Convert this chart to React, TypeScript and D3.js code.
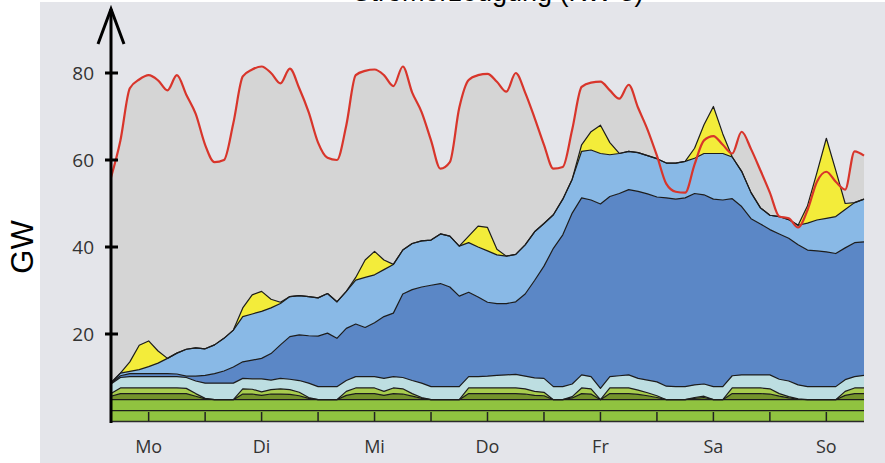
import { useEffect, useRef } from 'react';
import * as d3 from 'd3';

// hours since Monday 00:00, one sample every 2 h (Mon 04:00 .. Sun 20:00)
const hours = d3.range(4, 165, 2);

// consumption (GW)
const load = [
  56, 64.5, 76.5, 78.5, 79.5, 78.3, 76, 79.5, 75, 70.6,
  63.5, 59.5, 60, 68.5, 79.2, 80.8, 81.5, 80, 77.6, 81,
  76.5, 71, 64, 60.5, 60, 68, 79.5, 80.5, 80.8, 79.5,
  77, 81.5, 75.5, 71, 64.5, 58, 59.5, 72, 78.4, 79.5,
  79.8, 78, 75.7, 80, 75.5, 69.7, 63.5, 58, 58.4, 67,
  76.8, 77.8, 78, 76, 74.1, 77.3, 72, 67, 61, 54.5,
  52.7, 52.5, 59, 64.5, 65.5, 63.5, 61.5, 66.5, 62.5, 57.6,
  52.5, 47, 46.6, 44.5, 48.5, 55, 57.3, 55, 53.2, 62,
  61,
];

// flat base layers
const biomass = hours.map(() => 2.4);
const hydro = hours.map(() => 2.5);

const otherA = [
  0.8, 1.4, 1.4, 1.4, 1.4, 1.4, 1.4, 1.4, 1.4, 0.8,
  0.2, 0, 0, 0, 1.3, 1.3, 1.0, 1.3, 1.3, 1.2,
  0.9, 0.3, 0, 0, 0, 1.0, 1.4, 1.4, 1.4, 1.0,
  1.4, 1.3, 0.8, 0.3, 0, 0, 0, 0, 1.4, 1.4,
  1.4, 1.4, 1.4, 1.4, 1.3, 1.0, 0.9, 0, 0, 0.4,
  1.4, 1.3, 0, 1.4, 1.4, 1.4, 1.2, 0.9, 0.5, 0,
  0, 0, 0.3, 0.5, 0, 0, 1.4, 1.4, 1.4, 1.4,
  1.3, 0.8, 0.4, 0.1, 0, 0, 0, 0, 1.0, 1.4,
  1.4,
];

const otherB = [
  0.6, 1.3, 1.3, 1.3, 1.3, 1.3, 1.3, 1.3, 1.2, 0.6,
  0.1, 0, 0, 0, 1.2, 1.1, 0.8, 1.0, 1.2, 1.1,
  0.8, 0.2, 0, 0, 0, 0.9, 1.3, 1.3, 1.3, 0.9,
  1.3, 1.2, 0.6, 0.2, 0, 0, 0, 0, 1.3, 1.3,
  1.3, 1.3, 1.3, 1.3, 1.2, 0.9, 0.8, 0, 0, 0.3,
  1.3, 1.2, 0, 1.3, 1.3, 1.3, 1.0, 0.7, 0.4, 0,
  0, 0, 0.2, 0.3, 0, 0, 1.3, 1.3, 1.3, 1.3,
  1.2, 0.6, 0.3, 0.1, 0, 0, 0, 0, 0.9, 1.3,
  1.3,
];

const gas = [
  2.2, 2.4, 2.6, 2.6, 2.6, 2.6, 2.6, 2.6, 2.5, 2.9,
  3.5, 3.8, 3.8, 3.8, 2.4, 2.4, 3.0, 2.2, 2.4, 2.4,
  2.7, 3.3, 3.0, 3.0, 3.0, 2.5, 2.6, 2.6, 2.6, 3.0,
  2.6, 2.6, 3.0, 3.3, 3.0, 3.0, 3.0, 3.0, 2.6, 2.6,
  2.7, 2.9, 3.0, 3.1, 2.9, 3.1, 3.2, 3.0, 3.0, 2.9,
  3.0, 2.8, 2.6, 2.6, 2.8, 3.0, 2.7, 2.9, 3.2, 3.1,
  3.0, 3.0, 2.9, 2.8, 3.0, 3.0, 2.8, 3.0, 3.0, 3.0,
  3.2, 3.3, 3.6, 3.2, 3.0, 3.0, 3.0, 3.0, 2.7, 2.6,
  2.9,
];

const windOnshore = [
  0.2, 0.4, 0.7, 0.7, 0.7, 0.7, 0.7, 0.6, 0.3, 1.1,
  1.8, 2.2, 2.8, 3.7, 3.8, 4.3, 4.7, 6.1, 7.7, 9.8,
  10.5, 10.9, 11.6, 12.3, 11.1, 12, 12.1, 11.3, 12.4, 14.2,
  14.6, 19.2, 20.9, 22.1, 23.3, 23.7, 22.9, 20.8, 19.4, 18.3,
  17, 16.5, 16.4, 16.7, 18.9, 22.4, 25.8, 31.8, 34.9, 39.3,
  40.7, 40.6, 42.4, 41.4, 41.9, 42.6, 43, 42.8, 42.5, 43.3,
  43.1, 43.4, 44, 43.5, 43.1, 42.9, 40.7, 38.7, 35.9, 34.7,
  33.4, 33.4, 32.8, 32.2, 31.4, 31.2, 31, 30.6, 30.3, 30.8,
  30.7,
];

const windOffshore = [
  0.1, 0.6, 0.5, 0.9, 1.6, 2.4, 3.5, 4.8, 6.2, 6.5,
  6.1, 6.6, 7.5, 8.5, 10.4, 10.6, 10.8, 10.5, 9.5, 9.2,
  9, 9, 8.8, 9.1, 8.4, 8.5, 10.1, 11.5, 11, 10.8,
  11.2, 10.1, 10.6, 10.6, 10.4, 11.4, 11.7, 11.5, 11.4, 11.5,
  11.8, 11.2, 10.9, 10.9, 11.3, 11.2, 9.8, 7.7, 8.2, 7.8,
  10.7, 11.5, 11.6, 9.6, 9.2, 8.8, 8.9, 8.8, 8.8, 8,
  8.3, 8.4, 8.1, 9.5, 10.5, 10.7, 9.6, 8.1, 6, 3.7,
  3.3, 4, 4.3, 4.5, 6.2, 7.1, 7.7, 8.5, 8.8, 9.2,
  9.8,
];

const solar = [
  0, 0, 2.2, 5.6, 5.9, 2.8, 0, 0, 0, 0,
  0, 0, 0, 0, 2, 4.4, 4.6, 2, 0.3, 0,
  0, 0, 0, 0, 0, 0, 0.6, 4, 5.4, 2.2,
  0, 0, 0, 0, 0, 0, 0, 0, 1.5, 4.8,
  5.4, 1.3, 0, 0, 0, 0, 0, 0, 0, 0,
  1.5, 4.2, 6.5, 2.8, 0, 0, 0, 0, 0, 0,
  0, 0, 2.3, 6.6, 10.8, 4.5, 0, 0, 0, 0,
  0, 0, 0, 0, 4, 10.9, 18.4, 10.6, 1.4, 0,
  0,
];

const yTicks = [20, 40, 60, 80];
const dayLabels = ['Mo', 'Di', 'Mi', 'Do', 'Fr', 'Sa', 'So'];

const layers = [
  { key: 'biomass', values: biomass, color: '#90c340' },
  { key: 'hydro', values: hydro, color: '#90c340' },
  { key: 'otherA', values: otherA, color: '#74932b' },
  { key: 'otherB', values: otherB, color: '#a8cc4e' },
  { key: 'gas', values: gas, color: '#bddee1' },
  { key: 'windOnshore', values: windOnshore, color: '#5b87c6' },
  { key: 'windOffshore', values: windOffshore, color: '#89b9e6' },
  { key: 'solar', values: solar, color: '#f3ec3a' },
];

export default function App() {
  const svgRef = useRef<SVGSVGElement>(null);

  useEffect(() => {
    if (!svgRef.current) return;
    document.body.style.margin = '0';

    const svg = d3.select(svgRef.current);
    svg.selectAll('*').remove();

    const width = 885;
    const height = 463;

    const x = d3.scaleLinear().domain([4, 164]).range([111, 864]);
    const y = d3.scaleLinear().domain([0, 80]).range([421, 73]);

    // panel background
    svg
      .append('rect')
      .attr('x', 40)
      .attr('y', 2)
      .attr('width', width - 40)
      .attr('height', height - 2)
      .attr('fill', '#e4e5ea');

    // gray area under the load curve
    const loadArea = d3
      .area<number>()
      .x((_, i) => x(hours[i]))
      .y0(y(0))
      .y1((d) => y(d))
      .curve(d3.curveMonotoneX);

    svg.append('path').datum(load).attr('d', loadArea).attr('fill', '#d5d5d5');

    // stacked generation
    const rows = hours.map((h, i) => {
      const r: any = { h };
      layers.forEach((l) => (r[l.key] = l.values[i]));
      return r;
    });
    const stacked = d3.stack<any>().keys(layers.map((l) => l.key))(rows);

    const area = d3
      .area<any>()
      .x((d) => x(d.data.h))
      .y0((d) => y(d[0]))
      .y1((d) => y(d[1]));

    const topLine = d3
      .line<any>()
      .x((d) => x(d.data.h))
      .y((d) => y(d[1]));

    stacked.forEach((s, i) => {
      svg.append('path').datum(s).attr('d', area).attr('fill', layers[i].color);
    });
    stacked.forEach((s) => {
      svg
        .append('path')
        .datum(s)
        .attr('d', topLine)
        .attr('fill', 'none')
        .attr('stroke', '#1c1c1c')
        .attr('stroke-width', 1.2)
        .attr('stroke-linejoin', 'round');
    });

    // load line
    const loadLine = d3
      .line<number>()
      .x((_, i) => x(hours[i]))
      .y((d) => y(d))
      .curve(d3.curveMonotoneX);

    svg
      .append('path')
      .datum(load)
      .attr('d', loadLine)
      .attr('fill', 'none')
      .attr('stroke', '#d8352b')
      .attr('stroke-width', 2.2);

    // x axis
    svg
      .append('line')
      .attr('x1', 111)
      .attr('x2', 864)
      .attr('y1', 421.5)
      .attr('y2', 421.5)
      .attr('stroke', '#2a2a2a')
      .attr('stroke-width', 1.5);

    svg
      .selectAll('.xtick')
      .data(d3.range(12, 164, 12))
      .join('line')
      .attr('x1', (d) => x(d))
      .attr('x2', (d) => x(d))
      .attr('y1', 412)
      .attr('y2', 421)
      .attr('stroke', '#222')
      .attr('stroke-width', 1.5);

    svg
      .selectAll('.day')
      .data(dayLabels)
      .join('text')
      .attr('x', (_, i) => x(12 + i * 24))
      .attr('y', 453)
      .attr('text-anchor', 'middle')
      .attr('font-family', 'Open Sans, sans-serif')
      .attr('font-size', 18)
      .attr('fill', '#333')
      .text((d) => d);

    // y axis with arrow
    svg
      .append('line')
      .attr('x1', 111)
      .attr('x2', 111)
      .attr('y1', 423)
      .attr('y2', 9)
      .attr('stroke', '#000')
      .attr('stroke-width', 3);

    svg
      .append('path')
      .attr('d', 'M98,44 L111,9 L124,44')
      .attr('fill', 'none')
      .attr('stroke', '#000')
      .attr('stroke-width', 3);

    svg
      .selectAll('.ytick')
      .data(yTicks)
      .join('line')
      .attr('x1', 105)
      .attr('x2', 118)
      .attr('y1', (d) => y(d))
      .attr('y2', (d) => y(d))
      .attr('stroke', '#000')
      .attr('stroke-width', 3);

    svg
      .selectAll('.ylabel')
      .data(yTicks)
      .join('text')
      .attr('x', 94)
      .attr('y', (d) => y(d) + 7)
      .attr('text-anchor', 'end')
      .attr('font-family', 'Open Sans, sans-serif')
      .attr('font-size', 19)
      .attr('fill', '#333')
      .text((d) => d);

    // unit label
    svg
      .append('text')
      .attr('transform', 'translate(33,247) rotate(-90)')
      .attr('text-anchor', 'middle')
      .attr('font-family', 'Liberation Sans, Arial, sans-serif')
      .attr('font-size', 31)
      .attr('fill', '#000')
      .text('GW');

    // title, cut off at the top edge as in the source picture
    svg
      .append('text')
      .attr('x', 498)
      .attr('y', 1)
      .attr('text-anchor', 'middle')
      .attr('font-family', 'Liberation Sans, Arial, sans-serif')
      .attr('font-size', 27)
      .attr('fill', '#000')
      .text('Stromerzeugung (KW 3)');
  }, []);

  return <svg ref={svgRef} width={885} height={463} style={{ display: 'block' }}></svg>;
}
